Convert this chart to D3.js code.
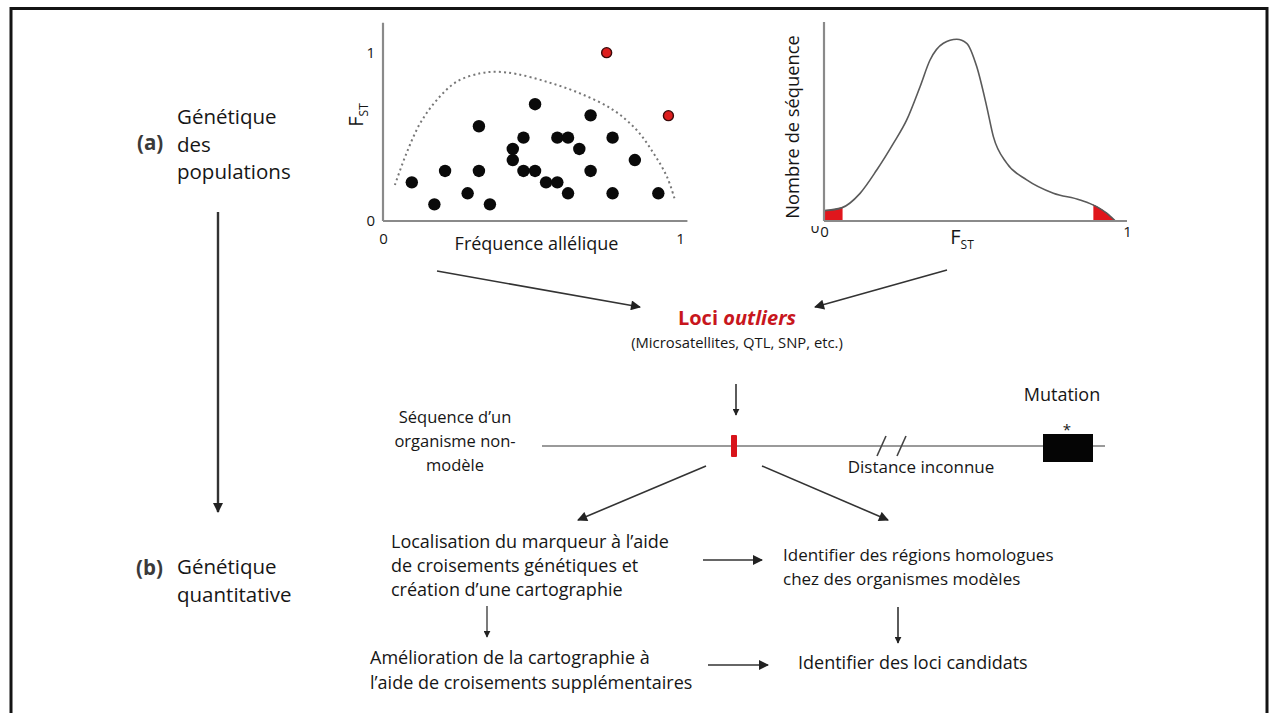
<!DOCTYPE html>
<html lang="fr">
<head>
<meta charset="utf-8">
<script src="https://cdn.jsdelivr.net/npm/d3@7"></script>
<style>
  html, body { margin: 0; padding: 0; background: #fff; }
  svg { display: block; }
  text { font-family: "Open Sans", "Noto Sans", sans-serif; fill: #161616; }
</style>
</head>
<body>
<svg id="fig" width="1269" height="713"></svg>
<script>
// ---- Scatter: allele frequency vs FST ----
const freqX   = [0.097,0.173,0.209,0.285,0.323,0.323,0.360,0.437,0.437,0.473,0.473,0.512,0.512,
                 0.549,0.587,0.587,0.623,0.623,0.661,0.699,0.699,0.773,0.773,0.848,0.927];
const fstY    = [0.230,0.099,0.298,0.165,0.564,0.298,0.099,0.429,0.363,0.496,0.298,0.695,0.298,
                 0.230,0.230,0.496,0.496,0.165,0.429,0.629,0.298,0.496,0.165,0.363,0.165];
const outlierX = [0.753, 0.961];
const outlierY = [1.002, 0.627];
// neutral envelope (dotted)
const envX = [0.040,0.079,0.125,0.181,0.248,0.327,0.383,0.450,0.551,0.663,0.775,0.854,0.911,0.956,0.983];
const envY = [0.214,0.403,0.581,0.720,0.829,0.879,0.888,0.875,0.829,0.760,0.661,0.542,0.403,0.264,0.125];
const scatterTicks = ["0", "1"];

// ---- FST distribution ----
const densX = [0.000,0.058,0.119,0.174,0.229,0.273,0.317,0.350,0.394,0.438,0.471,0.504,0.537,
               0.559,0.603,0.669,0.757,0.845,0.900,0.933,0.960];
const densY = [0.052,0.066,0.139,0.256,0.390,0.508,0.675,0.809,0.893,0.913,0.893,0.776,0.575,
               0.424,0.291,0.207,0.140,0.106,0.072,0.039,0.002];
const tailLow  = [0, 0.058];
const tailHigh = [0.889, 0.96];
const densTicks = ["0", "1"];

// ---- Text blocks ----
const partA = ["Génétique", "des", "populations"];
const partB = ["Génétique", "quantitative"];
const seqLabel = ["Séquence d’un", "organisme non-", "modèle"];
const locBlock = ["Localisation du marqueur à l’aide", "de croisements génétiques et", "création d’une cartographie"];
const homolBlock = ["Identifier des régions homologues", "chez des organismes modèles"];
const ameliorBlock = ["Amélioration de la cartographie à", "l’aide de croisements supplémentaires"];
const candidats = "Identifier des loci candidats";
const markerTypes = "(Microsatellites, QTL, SNP, etc.)";

const svg = d3.select("#fig");
const defs = svg.append("defs");
defs.append("marker")
  .attr("id", "head").attr("viewBox", "0 0 10 10")
  .attr("refX", 9).attr("refY", 5)
  .attr("markerWidth", 7).attr("markerHeight", 7)
  .attr("markerUnits", "userSpaceOnUse")
  .attr("orient", "auto")
  .append("path").attr("d", "M0,0 L10,5 L0,10 Z").attr("fill", "#222");
defs.append("marker")
  .attr("id", "headBig").attr("viewBox", "0 0 10 10")
  .attr("refX", 9).attr("refY", 5)
  .attr("markerWidth", 11).attr("markerHeight", 10)
  .attr("markerUnits", "userSpaceOnUse")
  .attr("orient", "auto")
  .append("path").attr("d", "M0,0 L10,5 L0,10 Z").attr("fill", "#222");

// outer frame (open at the bottom edge of the page)
svg.append("rect")
  .attr("x", 11).attr("y", 8.5).attr("width", 1256).attr("height", 740)
  .attr("fill", "none").attr("stroke", "#141414").attr("stroke-width", 3);

function arrow(x1, y1, x2, y2, opts = {}) {
  svg.append("line")
    .attr("x1", x1).attr("y1", y1).attr("x2", x2).attr("y2", y2)
    .attr("stroke", opts.color || "#333")
    .attr("stroke-width", opts.width || 1.6)
    .attr("marker-end", `url(#${opts.head || "headBig"})`);
}

function lines(arr, x, y0, dy, opts = {}) {
  const t = svg.append("text")
    .attr("x", x).attr("y", y0)
    .attr("font-size", opts.size || 18)
    .attr("text-anchor", opts.anchor || "start");
  arr.forEach((s, i) => {
    t.append("tspan").attr("x", x).attr("y", y0 + i * dy).text(s);
  });
  return t;
}

// ================= Scatter plot =================
const xS = d3.scaleLinear().domain([0, 1]).range([383, 680]);
const yS = d3.scaleLinear().domain([0, 1]).range([221, 53]);
const scat = svg.append("g");

scat.append("line").attr("x1", xS(0)).attr("x2", xS(0)).attr("y1", yS(0)).attr("y2", yS(1.18))
  .attr("stroke", "#8a8a8a").attr("stroke-width", 2.2);
scat.append("line").attr("x1", xS(0)).attr("x2", xS(1.025)).attr("y1", yS(0)).attr("y2", yS(0))
  .attr("stroke", "#8a8a8a").attr("stroke-width", 2.2);

const xAx = scat.append("g").attr("transform", `translate(0,${yS(0)})`)
  .call(d3.axisBottom(xS).tickValues([0, 1]).tickFormat((d, i) => scatterTicks[i]).tickSize(0).tickPadding(12));
const yAx = scat.append("g").attr("transform", `translate(${xS(0)},0)`)
  .call(d3.axisLeft(yS).tickValues([0, 1]).tickFormat((d, i) => scatterTicks[i]).tickSize(0).tickPadding(8));
[xAx, yAx].forEach(g => {
  g.select(".domain").remove();
  g.selectAll("text").attr("font-size", 15).attr("fill", "#222")
    .attr("font-family", "'Liberation Sans', Arial, sans-serif");
});

scat.append("path")
  .datum(envX.map((x, i) => [x, envY[i]]))
  .attr("d", d3.line().x(d => xS(d[0])).y(d => yS(d[1])).curve(d3.curveCatmullRom))
  .attr("fill", "none").attr("stroke", "#777").attr("stroke-width", 2)
  .attr("stroke-dasharray", "2,3.2");

scat.selectAll("circle.pt")
  .data(freqX.map((x, i) => [x, fstY[i]]))
  .join("circle").attr("class", "pt")
  .attr("cx", d => xS(d[0])).attr("cy", d => yS(d[1])).attr("r", 6.2)
  .attr("fill", "#0a0a0a");
scat.selectAll("circle.out")
  .data(outlierX.map((x, i) => [x, outlierY[i]]))
  .join("circle").attr("class", "out")
  .attr("cx", d => xS(d[0])).attr("cy", d => yS(d[1])).attr("r", 5)
  .attr("fill", "#dd1e1e").attr("stroke", "#3a0a0a").attr("stroke-width", 1.4);

scat.append("text").attr("x", (xS(0) + xS(1)) / 2 + 5).attr("y", 250)
  .attr("text-anchor", "middle").attr("font-size", 18).text("Fréquence allélique");
const fstLab = scat.append("text")
  .attr("transform", `translate(363,${(yS(0) + yS(1)) / 2 - 22}) rotate(-90)`)
  .attr("text-anchor", "middle").attr("font-size", 20)
  .attr("font-family", "'Liberation Sans', Arial, sans-serif");
fstLab.append("tspan").text("F");
fstLab.append("tspan").attr("font-size", 12).attr("dy", 5).text("ST");

// ================= FST distribution =================
const xD = d3.scaleLinear().domain([0, 1]).range([824, 1127]);
const yD = d3.scaleLinear().domain([0, 1]).range([221, 22]);
const dens = svg.append("g");
const densPts = densX.map((x, i) => [x, densY[i]]);

const area = d3.area().x(d => xD(d[0])).y0(yD(0)).y1(d => yD(d[1])).curve(d3.curveMonotoneX);
[tailLow, tailHigh].forEach((rng, k) => {
  defs.append("clipPath").attr("id", "tail" + k)
    .append("rect").attr("x", xD(rng[0])).attr("y", 0)
    .attr("width", xD(rng[1]) - xD(rng[0]) + 1).attr("height", yD(0));
  dens.append("path").datum(densPts).attr("d", area)
    .attr("clip-path", `url(#tail${k})`)
    .attr("fill", "#e0161c").attr("stroke", "#8e1010").attr("stroke-width", 1);
});

dens.append("path").datum(densPts)
  .attr("d", d3.line().x(d => xD(d[0])).y(d => yD(d[1])).curve(d3.curveMonotoneX))
  .attr("fill", "none").attr("stroke", "#5a5a5a").attr("stroke-width", 1.6);

dens.append("line").attr("x1", xD(0)).attr("x2", xD(0)).attr("y1", yD(0)).attr("y2", yD(1))
  .attr("stroke", "#8a8a8a").attr("stroke-width", 2.2);
dens.append("line").attr("x1", xD(0)).attr("x2", xD(1)).attr("y1", yD(0)).attr("y2", yD(0))
  .attr("stroke", "#8a8a8a").attr("stroke-width", 2.2);

const dAx = dens.append("g").attr("transform", `translate(0,${yD(0)})`)
  .call(d3.axisBottom(xD).tickValues([0, 1]).tickFormat((d, i) => densTicks[i]).tickSize(0).tickPadding(5));
dAx.select(".domain").remove();
dAx.selectAll("text").attr("font-size", 15).attr("fill", "#222")
  .attr("font-family", "'Liberation Sans', Arial, sans-serif");

// y-axis "0", partly hidden by the x-axis label row
defs.append("clipPath").attr("id", "zeroClip")
  .append("rect").attr("x", 800).attr("y", 226).attr("width", 20).attr("height", 20);
dens.append("text").attr("x", 815).attr("y", 233).attr("text-anchor", "middle")
  .attr("font-size", 15).attr("clip-path", "url(#zeroClip)")
  .attr("font-family", "'Liberation Sans', Arial, sans-serif").text(densTicks[0]);

dens.append("text").attr("transform", `translate(799,127) rotate(-90)`)
  .attr("text-anchor", "middle").attr("font-size", 18.3).text("Nombre de séquence");
const fstLab2 = dens.append("text").attr("x", 962).attr("y", 244).attr("text-anchor", "middle")
  .attr("font-size", 20).attr("font-family", "'Liberation Sans', Arial, sans-serif");
fstLab2.append("tspan").text("F");
fstLab2.append("tspan").attr("font-size", 12).attr("dy", 5).text("ST");

// ================= Left-hand section labels =================
svg.append("text").attr("x", 137).attr("y", 150).attr("font-size", 20.5).attr("font-weight", "bold")
  .style("fill", "#3a3a3a").text("(a)");
lines(partA, 177, 124, 27.5, { size: 20.5 });
svg.append("text").attr("x", 136).attr("y", 575).attr("font-size", 20.5).attr("font-weight", "bold")
  .style("fill", "#3a3a3a").text("(b)");
lines(partB, 177, 574, 28, { size: 20.5 });
arrow(218, 212, 218, 512, { width: 2.4, head: "headBig" });

// ================= Outlier loci =================
arrow(437, 271, 640, 307);
arrow(947, 270, 815, 307);
const loci = svg.append("text").attr("x", 737).attr("y", 325).attr("text-anchor", "middle")
  .attr("font-size", 20).attr("font-weight", "bold");
loci.append("tspan").style("fill", "#c8161d").text("Loci ");
loci.append("tspan").style("fill", "#c8161d").attr("font-style", "italic").text("outliers");
svg.append("text").attr("x", 737).attr("y", 348).attr("text-anchor", "middle")
  .attr("font-size", 14.8).text(markerTypes);

arrow(736, 384, 736, 415, { head: "head" });

// ================= Sequence line =================
lines(seqLabel, 455, 423, 24, { size: 16.5, anchor: "middle" });
svg.append("line").attr("x1", 542).attr("x2", 1105).attr("y1", 446).attr("y2", 446)
  .attr("stroke", "#9a9a9a").attr("stroke-width", 2);
svg.append("rect").attr("x", 731).attr("y", 435).attr("width", 6).attr("height", 22).attr("rx", 1)
  .attr("fill", "#d8141b");
// break marks on the sequence
[[877, 886], [897, 906]].forEach(([a, b]) => {
  svg.append("line").attr("x1", a).attr("y1", 456).attr("x2", b).attr("y2", 436)
    .attr("stroke", "#444").attr("stroke-width", 1.6);
});
svg.append("rect").attr("x", 1043).attr("y", 434).attr("width", 50).attr("height", 28).attr("fill", "#050505");
svg.append("text").attr("x", 1067).attr("y", 435).attr("text-anchor", "middle").attr("font-size", 15)
  .attr("font-family", "'Liberation Sans', Arial, sans-serif").text("*");
svg.append("text").attr("x", 1062).attr("y", 401).attr("text-anchor", "middle").attr("font-size", 18).text("Mutation");
svg.append("text").attr("x", 921).attr("y", 473).attr("text-anchor", "middle").attr("font-size", 17).text("Distance inconnue");

// ================= Downstream steps =================
arrow(706, 466, 578, 520);
arrow(762, 466, 888, 520);
lines(locBlock, 391, 548, 24, { size: 18 });
arrow(703, 560, 762, 560);
lines(homolBlock, 783, 561, 24, { size: 17 });
arrow(898, 607, 898, 643, { head: "head" });
arrow(487, 606, 487, 637, { head: "head", width: 1.3 });
lines(ameliorBlock, 370, 664, 25, { size: 18 });
arrow(708, 665, 768, 665);
svg.append("text").attr("x", 798).attr("y", 669).attr("font-size", 18).text(candidats);
</script>
</body>
</html>
